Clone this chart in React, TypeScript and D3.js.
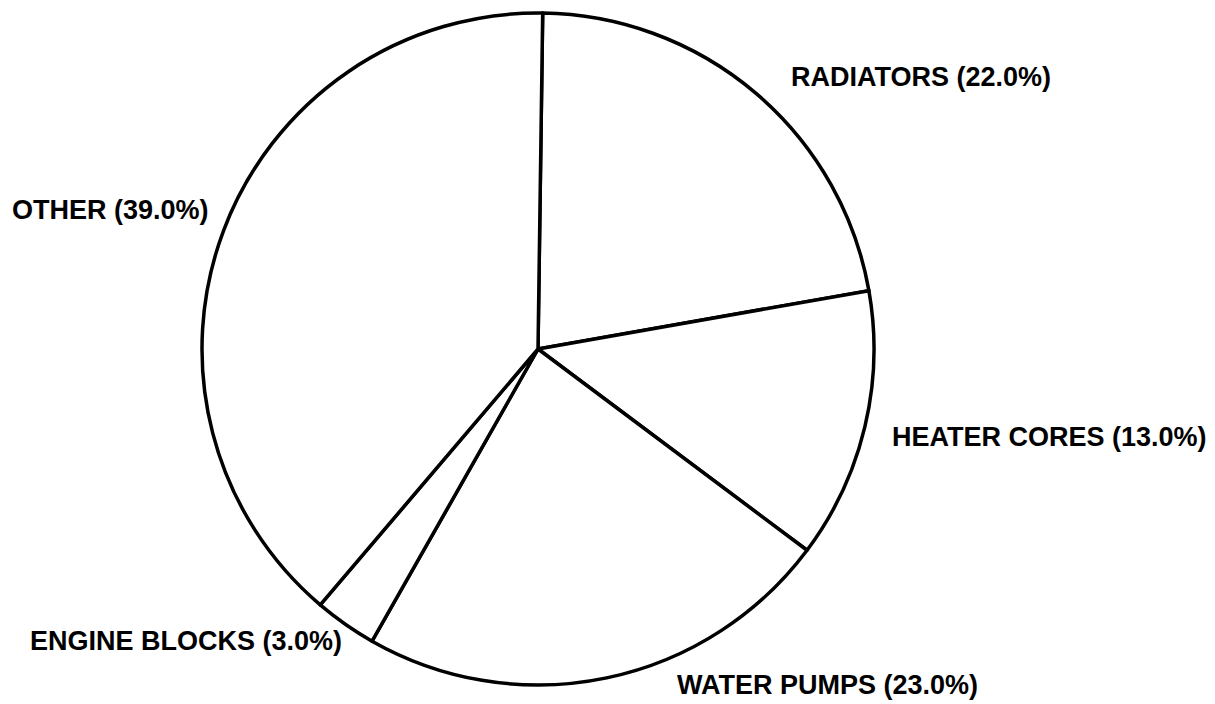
import React from "react";
import * as d3 from "d3";

const categories = ["RADIATORS", "HEATER CORES", "WATER PUMPS", "ENGINE BLOCKS", "OTHER"];
const shares = [22.0, 13.0, 23.0, 3.0, 39.0];

// label layout (text start x, baseline y) — presentation only
const labelLayout: [number, number][] = [
  [791, 86],
  [892, 446],
  [677, 694],
  [30, 650],
  [12, 219],
];

const W = 1215;
const H = 704;
const cx = 538;
const cy = 349;
const R = 336;
const startDeg = 0.8;

export default function App() {
  const pie = d3
    .pie<number>()
    .sort(null)
    .value((d) => d)
    .startAngle((startDeg * Math.PI) / 180)
    .endAngle((startDeg * Math.PI) / 180 + 2 * Math.PI);
  const arcs = pie(shares);
  const arcGen = d3.arc<d3.PieArcDatum<number>>().innerRadius(0).outerRadius(R);

  return (
    <svg
      width={W}
      height={H}
      style={{ position: "absolute", left: 0, top: 0, background: "#fff" }}
    >
      <rect x={0} y={0} width={W} height={H} fill="#fff" />
      <g transform={`translate(${cx},${cy})`}>
        {arcs.map((a, i) => (
          <path
            key={i}
            d={arcGen(a) || ""}
            fill="#fff"
            stroke="#000"
            strokeWidth={3.5}
            strokeLinejoin="round"
          />
        ))}
      </g>
      {categories.map((c, i) => (
        <text
          key={c}
          x={labelLayout[i][0]}
          y={labelLayout[i][1]}
          fontFamily="'Liberation Sans', Arial, Helvetica, sans-serif"
          fontWeight="bold"
          fontSize={27}
          fill="#000"
        >
          {`${c} (${shares[i].toFixed(1)}%)`}
        </text>
      ))}
    </svg>
  );
}
